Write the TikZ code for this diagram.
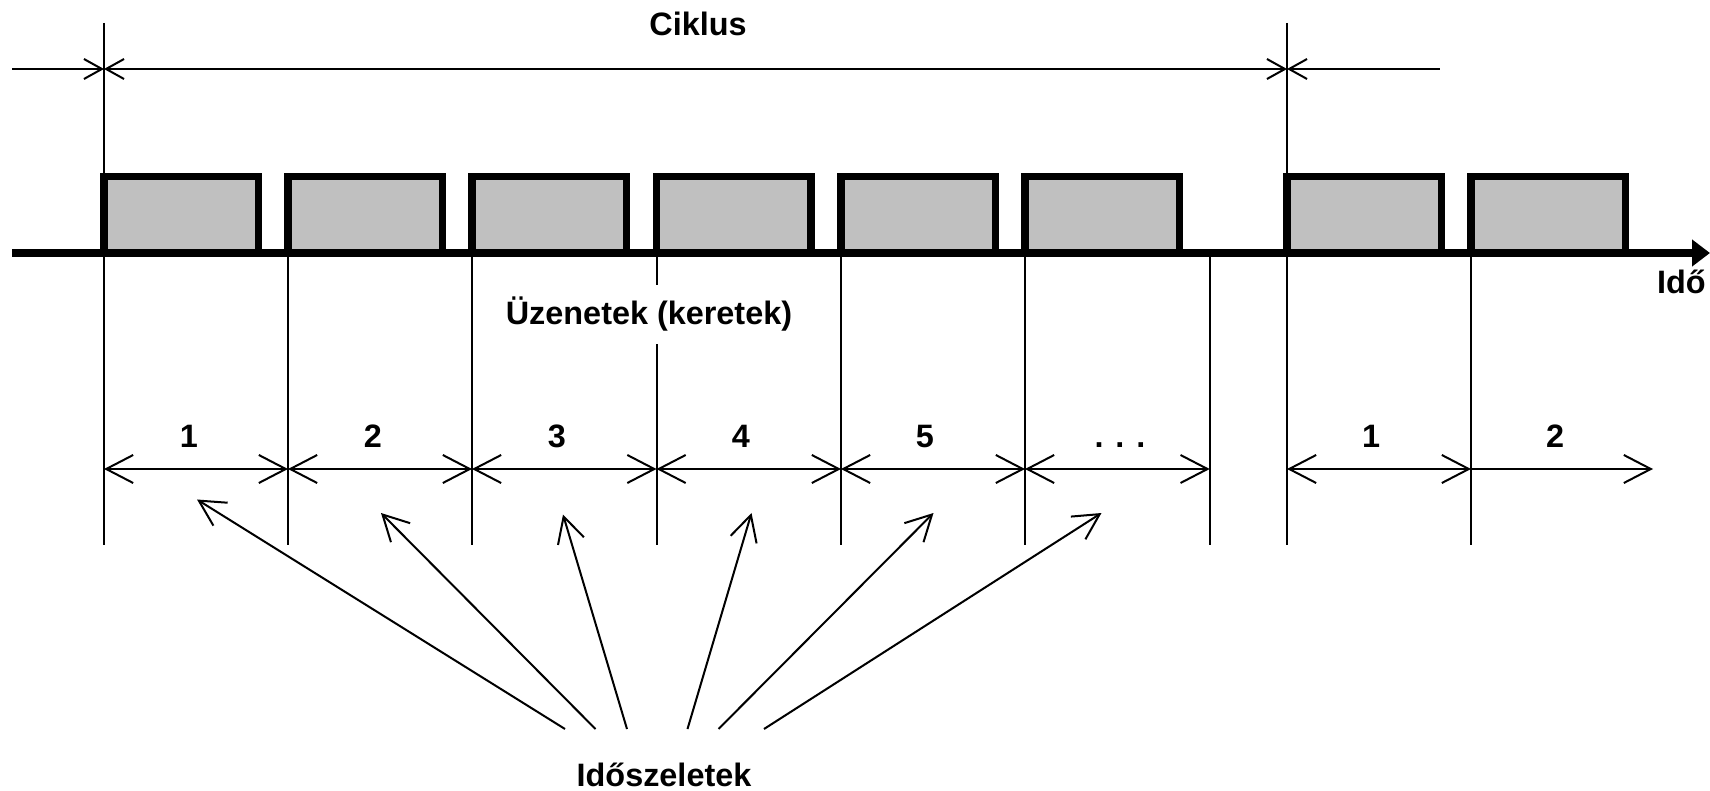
\documentclass[tikz,border=0pt]{standalone}
\usepackage{fontspec}
\setmainfont{Liberation Sans}
\usetikzlibrary{arrows.meta}
\begin{document}
\begin{tikzpicture}[x=0.5pt,y=-0.5pt,
  lbl/.style={font=\bfseries\fontsize{16.2}{19}\selectfont, inner sep=0pt, anchor=base},
  hair/.style={line width=1pt},
  topdim/.style={line width=1pt, arrows={Straight Barb[length=9pt,width=10pt,line width=1pt]-Straight Barb[length=9pt,width=10pt,line width=1pt]}},
  topend/.style={line width=1pt, arrows={-Straight Barb[length=9pt,width=10pt,line width=1pt]}},
  topstart/.style={line width=1pt, arrows={Straight Barb[length=9pt,width=10pt,line width=1pt]-}},
  slotdim/.style={line width=1pt, arrows={Straight Barb[length=13.5pt,width=14pt,line width=1pt]-Straight Barb[length=13.5pt,width=14pt,line width=1pt]}},
  slotend/.style={line width=1pt, arrows={-Straight Barb[length=13.5pt,width=14pt,line width=1pt]}},
  pointer/.style={line width=1pt, arrows={-Straight Barb[length=12.8pt,width=13.5pt,line width=1pt]}},
  msgbox/.style={line width=3.75pt, fill=boxgray, draw=black},
  axisline/.style={line width=4pt, arrows={-Triangle[length=9pt,width=13pt]}}
]
\definecolor{boxgray}{HTML}{C0C0C0}
\useasboundingbox (0,0) rectangle (1710,791);

% message boxes
\foreach \x in {104,288,472,656.5,841,1025,1287,1471}{
  \draw[msgbox] (\x,176.5) rectangle ++(154.5,76.5);
}
% time axis
\coordinate (ax0) at (12,253);
\coordinate (ax1) at (1710,253);
\draw[axisline] (ax0) -- (ax1);

% vertical lines
\draw[hair] (104,23) -- (104,545);
\draw[hair] (1287,23) -- (1287,545);
\foreach \x in {288,472,656.5,841,1025,1209.7,1471}{
  \draw[hair] (\x,253) -- (\x,545);
}

% cycle dimension
\coordinate (t0) at (12,69);
\coordinate (t1) at (104,69);
\coordinate (t2) at (1287,69);
\coordinate (t3) at (1440,69);
\draw[topend] (t0) -- (t1);
\draw[topdim] (t1) -- (t2);
\draw[topstart] (t2) -- (t3);
\node[lbl] (ciklus) at (698,36) {Ciklus};

% slot dimensions
\coordinate (s0) at (104,469);
\coordinate (s1) at (288,469);
\coordinate (s2) at (472,469);
\coordinate (s3) at (656.5,469);
\coordinate (s4) at (841,469);
\coordinate (s5) at (1025,469);
\coordinate (s6) at (1209.7,469);
\coordinate (c1) at (1287,469);
\coordinate (c2) at (1471,469);
\coordinate (c3) at (1653,469);
\draw[slotdim] (s0) -- (s1);
\draw[slotdim] (s1) -- (s2);
\draw[slotdim] (s2) -- (s3);
\draw[slotdim] (s3) -- (s4);
\draw[slotdim] (s4) -- (s5);
\draw[slotdim] (s5) -- (s6);
\draw[slotdim] (c1) -- (c2);
\draw[slotend] (c2) -- (c3);

\node[lbl] (n1) at (189,448) {1};
\node[lbl] (n2) at (373,448) {2};
\node[lbl] (n3) at (557,448) {3};
\node[lbl] (n4) at (741,448) {4};
\node[lbl] (n5) at (925,448) {5};
\node[lbl] (n6) at (1120,448) {. . .};
\node[lbl] (m1) at (1371,448) {1};
\node[lbl] (m2) at (1555,448) {2};

% labels
\node[lbl, fill=white, inner xsep=2pt, inner ysep=6pt] (uzenet) at (649,325) {Üzenetek (keretek)};
\node[lbl, anchor=base east] (ido) at (1706,294) {Idő};
\node[lbl] (szelet) at (664,786) {Időszeletek};

% pointers
\coordinate (p1a) at (565,729);   \coordinate (p1b) at (197,499.5);
\coordinate (p2a) at (595.5,729); \coordinate (p2b) at (381,513);
\coordinate (p3a) at (627,729);   \coordinate (p3b) at (563,514.5);
\coordinate (p4a) at (687.5,729); \coordinate (p4b) at (751.5,513);
\coordinate (p5a) at (718.5,729); \coordinate (p5b) at (933.5,513);
\coordinate (p6a) at (764,729);   \coordinate (p6b) at (1101.5,513);
\draw[pointer] (p1a) -- (p1b);
\draw[pointer] (p2a) -- (p2b);
\draw[pointer] (p3a) -- (p3b);
\draw[pointer] (p4a) -- (p4b);
\draw[pointer] (p5a) -- (p5b);
\draw[pointer] (p6a) -- (p6b);
\end{tikzpicture}
\end{document}
